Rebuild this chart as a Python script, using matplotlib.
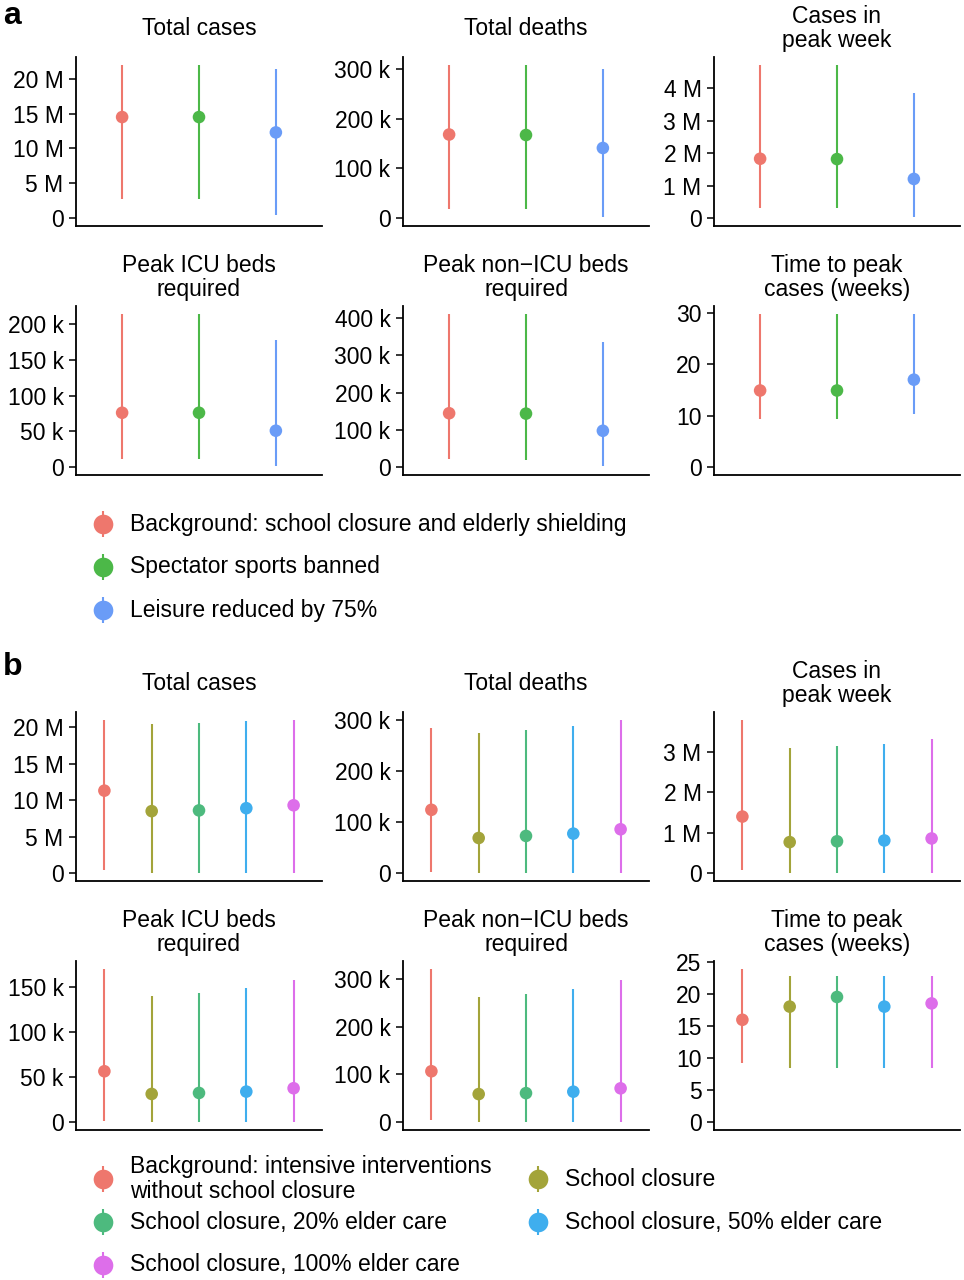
import matplotlib
matplotlib.use("Agg")
import matplotlib.pyplot as plt
import numpy as np
from matplotlib.ticker import MultipleLocator, FuncFormatter

plt.rcParams['font.family'] = ['Liberation Sans', 'DejaVu Sans']

### Data
#########

metrics = ["Total cases", "Total deaths", "Cases in\npeak week",
           "Peak ICU beds\nrequired", "Peak non\u2212ICU beds\nrequired",
           "Time to peak\ncases (weeks)"]

# panel a
a_scenarios = ["Background: school closure and elderly shielding",
               "Spectator sports banned",
               "Leisure reduced by 75%"]
a_colors = ["#EE776D", "#4CB848", "#6A9CF7"]
a_mid = [[14.5e6, 14.5e6, 12.3e6],
         [168e3, 167e3, 141e3],
         [1.83e6, 1.82e6, 1.21e6],
         [76e3, 76e3, 51e3],
         [145e3, 144e3, 98e3],
         [14.9, 14.9, 17.0]]
a_lo = [[2.8e6, 2.7e6, 0.5e6],
        [18e3, 18e3, 3e3],
        [0.31e6, 0.31e6, 0.05e6],
        [11.7e3, 11e3, 2e3],
        [22e3, 20e3, 4e3],
        [9.3, 9.3, 10.4]]
a_hi = [[22.0e6, 22.0e6, 21.4e6],
        [308e3, 307e3, 300e3],
        [4.72e6, 4.72e6, 3.86e6],
        [214e3, 214e3, 177e3],
        [412e3, 412e3, 336e3],
        [29.8, 29.8, 29.8]]
a_step = [5e6, 100e3, 1e6, 50e3, 100e3, 10]

# panel b
b_scenarios = ["Background: intensive interventions\nwithout school closure",
               "School closure",
               "School closure, 20% elder care",
               "School closure, 50% elder care",
               "School closure, 100% elder care"]
b_colors = ["#EE776D", "#A3A43A", "#4DBA7E", "#3FAEEE", "#DD6EEA"]
b_mid = [[11.3e6, 8.5e6, 8.6e6, 8.9e6, 9.3e6],
         [124e3, 69e3, 73e3, 77.5e3, 86e3],
         [1.40e6, 0.77e6, 0.79e6, 0.81e6, 0.86e6],
         [56.5e3, 31.4e3, 32.5e3, 34e3, 37.7e3],
         [106.7e3, 59e3, 61e3, 64e3, 71e3],
         [15.95, 18.0, 19.5, 18.0, 18.5]]
b_lo = [[0.4e6, 0, 0, 0, 0],
        [2e3, 0, 0, 0, 0],
        [0.07e6, 0, 0, 0, 0],
        [2e3, 0, 0, 0, 0],
        [4e3, 0, 0, 0, 0],
        [9.2, 8.45, 8.45, 8.45, 8.45]]
b_hi = [[20.9e6, 20.4e6, 20.6e6, 20.8e6, 21.0e6],
        [284e3, 274e3, 279e3, 287e3, 300e3],
        [3.79e6, 3.09e6, 3.13e6, 3.19e6, 3.31e6],
        [170e3, 139.6e3, 143.3e3, 148.9e3, 158e3],
        [321e3, 262e3, 269e3, 279e3, 297e3],
        [23.9, 22.8, 22.8, 22.8, 22.8]]
b_step = [5e6, 100e3, 1e6, 50e3, 100e3, 5]

### Layout helpers
##################

W, H = 964, 1280
FS = 16.5
fig = plt.figure(figsize=(W / 100, H / 100), dpi=100)

col_left = [76, 403, 714]
ax_w, ax_h = 246, 169


def px_axes(left, top, w, h):
    return fig.add_axes([left / W, 1 - (top + h) / H, w / W, h / H])


def si_label(v, pos):
    if abs(v) < 1e-9:
        return "0"
    if abs(v) >= 1e6:
        return "%g M" % (v / 1e6)
    if abs(v) >= 1e3:
        return "%g k" % (v / 1e3)
    return "%g" % v


def draw_panel(tops, mid, lo, hi, steps, colors):
    n = len(colors)
    x = np.arange(1, n + 1)
    for k in range(len(metrics)):
        r, c = divmod(k, 3)
        ax = px_axes(col_left[c], tops[r], ax_w, ax_h)
        ax.vlines(x, lo[k], hi[k], colors=colors, lw=1.5, zorder=2)
        ax.scatter(x, mid[k], s=82, c=colors, zorder=3, linewidths=0)
        ax.set_xlim(0.4, n + 0.6)
        top = max(hi[k])
        ax.set_ylim(-0.05 * top, 1.05 * top)
        ax.yaxis.set_major_locator(MultipleLocator(steps[k]))
        ax.yaxis.set_major_formatter(FuncFormatter(si_label))
        ax.set_xticks([])
        for s in ["top", "right"]:
            ax.spines[s].set_visible(False)
        for s in ["left", "bottom"]:
            ax.spines[s].set_linewidth(1.3)
        ax.tick_params(axis="y", length=5, width=1.1, pad=4, labelsize=FS)
        fig.text((col_left[c] + ax_w / 2) / W, 1 - (tops[r] - 28.5) / H,
                 metrics[k], ha="center", va="center", fontsize=FS,
                 linespacing=1.08)


def draw_legend(lax, labels, colors, x0s, y0, dy, ncol):
    for i, (lab, col) in enumerate(zip(labels, colors)):
        xc = x0s[i % ncol]
        yc = y0 + dy * (i // ncol)
        lax.vlines(xc, yc - 13, yc + 13, colors=col, lw=1.5)
        lax.scatter(xc, yc, s=200, c=col, linewidths=0, zorder=3)
        lax.text(xc + 27, yc, lab, va="center", ha="left", fontsize=FS,
                 linespacing=1.08)


### Figure
##########

lax = fig.add_axes([0, 0, 1, 1])
lax.set_xlim(0, W)
lax.set_ylim(H, 0)
lax.axis("off")

draw_panel([57, 306], a_mid, a_lo, a_hi, a_step, a_colors)
draw_panel([712, 961], b_mid, b_lo, b_hi, b_step, b_colors)

# legends: a single column, b two columns filled by row
draw_legend(lax, a_scenarios, a_colors, [103], 524, 43, 1)
draw_legend(lax, b_scenarios, b_colors, [103, 538], 1179, 43, 2)

fig.text(3 / W, 1 - 23.5 / H, "a", fontsize=23, fontweight="bold", va="baseline")
fig.text(3 / W, 1 - 675 / H, "b", fontsize=23, fontweight="bold", va="baseline")

fig.savefig("out.png", dpi=100)
